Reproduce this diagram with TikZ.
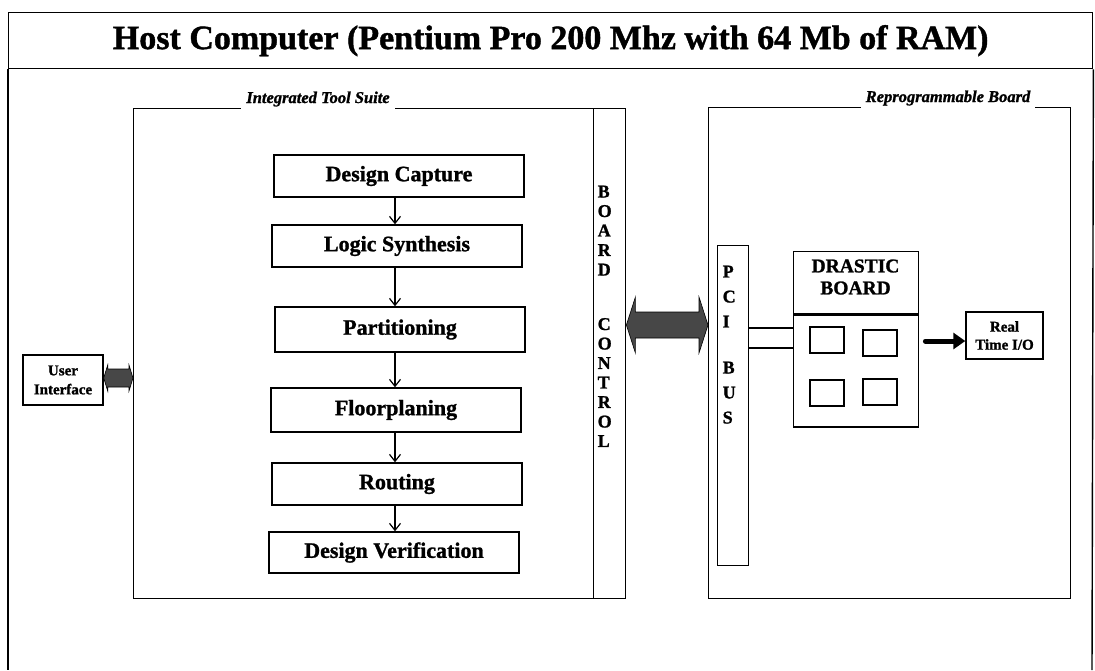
\documentclass[tikz,border=0pt]{standalone}
\usepackage{fontspec}
\setmainfont{Liberation Serif}[BoldFeatures={FakeBold=1.2},BoldItalicFeatures={FakeBold=1.2}]
\usetikzlibrary{arrows.meta,calc}
\begin{document}
\begin{tikzpicture}[x=1pt,y=-1pt,line width=1.4pt,
  box/.style={draw,line width=1.4pt,inner sep=0pt},
  flowbox/.style={box,minimum width=250pt,minimum height=42pt,font=\fontsize{22}{26}\selectfont\bfseries},
  flowarrow/.style={line width=1.2pt,-{Straight Barb[length=7pt,width=11pt]}},
  grouplabel/.style={fill=white,inner xsep=5pt,inner ysep=4pt,font=\fontsize{16.5}{19}\selectfont\bfseries\itshape},
  vtext/.style={align=left,inner sep=0pt,font=\fontsize{18}{19.5}\selectfont\bfseries},
  smalltext/.style={box,align=center,font=\fontsize{15}{19}\selectfont\bfseries},
  chipsq/.style={box,minimum width=34pt,minimum height=26pt},
  shadearrow/.style={fill=black!72,draw=black,line width=0.6pt},
  rtarrow/.style={line width=5pt,line cap=round,-{Triangle[length=12pt,width=16pt]}}
]
\useasboundingbox (0,0) rectangle (1095,670);

% title and outer frame
\node[box,minimum width=1084pt,minimum height=56pt,anchor=north west,
      font=\fontsize{34}{38}\selectfont\bfseries] (title) at (8,12)
      {Host Computer (Pentium Pro 200 Mhz with 64 Mb of RAM)};
\draw (title.south west) -- (8,670);
\draw (title.south east) -- (1092,670);

% integrated tool suite
\node[box,minimum width=492pt,minimum height=490pt,anchor=north west] (lb) at (133,108) {};
\node[grouplabel,anchor=base] (lbl) at (318,103) {Integrated Tool Suite};
\node[box,minimum width=32pt,minimum height=490pt,anchor=north east] (bc) at (lb.north east) {};
\node[vtext,anchor=north west] (bct) at (597,185)
  {B\\O\\A\\R\\D\\[35pt]C\\O\\N\\T\\R\\O\\L};

% flow
\node[flowbox] (dc) at (399,176) {Design Capture};
\node[flowbox] (ls) at (397,246) {Logic Synthesis};
\node[flowbox,minimum height=45pt] (pa) at (400,329.5) {Partitioning};
\node[flowbox,minimum height=44pt] (fp) at (396,410) {Floorplaning};
\node[flowbox] (ro) at (397,484) {Routing};
\node[flowbox,minimum height=41pt] (dv) at (394,552.5) {Design Verification};
\foreach \a/\b in {dc/ls,ls/pa,pa/fp,fp/ro,ro/dv}
  \draw[flowarrow] (\a.south -| 395,0) -- (\b.north -| 395,0);

% user interface
\node[smalltext,minimum width=80pt,minimum height=50pt,inner xsep=1pt] (ui) at (63,380) {User\\Interface};
\coordinate (uy) at (0,378);
\coordinate (UL) at (ui.east |- uy);
\coordinate (UR) at (lb.west |- uy);
\filldraw[shadearrow] (UL) -- ($(UL)+(4,-13)$) -- ($(UL)+(4,-9)$) -- ($(UR)+(-4,-9)$)
  -- ($(UR)+(-4,-13)$) -- (UR) -- ($(UR)+(-4,13)$) -- ($(UR)+(-4,9)$)
  -- ($(UL)+(4,9)$) -- ($(UL)+(4,13)$) -- cycle;

% reprogrammable board
\node[box,minimum width=362pt,minimum height=491pt,anchor=north west] (rb) at (708,107) {};
\node[grouplabel,anchor=base] (rbl) at (948,102) {Reprogrammable Board};
\node[box,minimum width=31pt,minimum height=320pt,anchor=north west] (pci) at (717,245) {};
\node[vtext,font=\fontsize{18}{25}\selectfont\bfseries,anchor=north west] (pcit) at (722,265)
  {P\\C\\I\\[21pt]B\\U\\S};

% big double arrow
\coordinate (ym) at (0,325);
\coordinate (L) at (bc.east |- ym);
\coordinate (R) at (rb.west |- ym);
\filldraw[shadearrow] (L) -- ($(L)+(9,-28)$) -- ($(L)+(9,-13)$) -- ($(R)+(-9,-13)$)
  -- ($(R)+(-9,-28)$) -- (R) -- ($(R)+(-9,28)$) -- ($(R)+(-9,13)$)
  -- ($(L)+(9,13)$) -- ($(L)+(9,28)$) -- cycle;

% drastic board
\node[box,minimum width=125pt,minimum height=62pt,anchor=north west] (dlab) at (793,251) {};
\node[align=center,inner sep=0pt,font=\fontsize{19.5}{22}\selectfont\bfseries] (dlabt)
  at (855.5,277) {DRASTIC\\BOARD};
\node[box,minimum width=125pt,minimum height=112pt,anchor=north] (chip) at (dlab.south) {};
\node[chipsq] (c1) at (827,340) {};
\node[chipsq] (c2) at (880,343) {};
\node[chipsq] (c3) at (827,393) {};
\node[chipsq] (c4) at (880,392) {};
\coordinate (by1) at (0,328);
\coordinate (by2) at (0,348);
\draw (pci.east |- by1) -- (chip.west |- by1);
\draw (pci.east |- by2) -- (chip.west |- by2);

% real time I/O
\node[smalltext,minimum width=77pt,minimum height=47pt,inner xsep=1pt,
      font=\fontsize{15}{18}\selectfont\bfseries] (rt) at (1004.5,335.5) {Real\\Time I/O};
\coordinate (ay) at (0,341);
\draw[rtarrow] ($(chip.east |- ay)+(6,0)$) -- (rt.west |- ay);
\end{tikzpicture}
\end{document}
